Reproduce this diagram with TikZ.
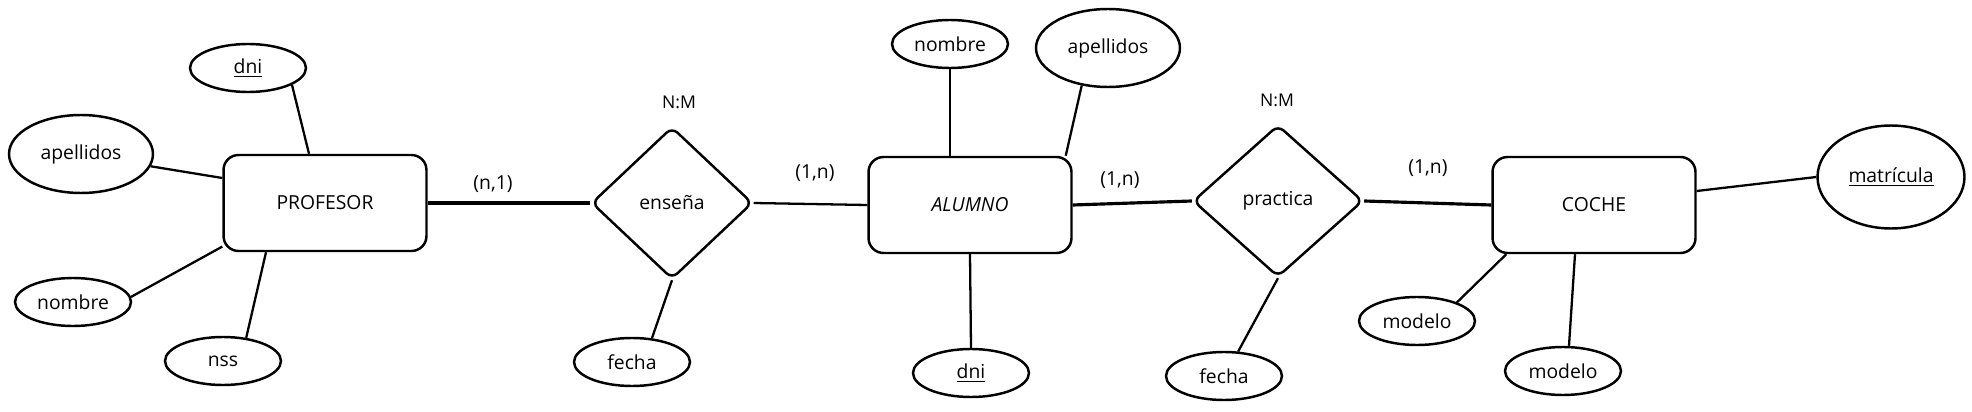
\documentclass[tikz,border=0pt]{standalone}
\usepackage{fontspec}
\setmainfont{Open Sans}
\usetikzlibrary{shapes.geometric,positioning}

\begin{document}
\begin{tikzpicture}[x=0.02cm, y=-0.02cm, font=\fontsize{11}{13}\selectfont,
  entity/.style={rectangle, draw, rounded corners=0.3cm, line width=1.4pt, minimum width=4.06cm, minimum height=1.92cm},
  attr/.style={ellipse, draw, line width=1.4pt, minimum width=2.32cm, minimum height=0.96cm, inner sep=1pt},
  bigattr/.style={attr, minimum width=2.88cm, minimum height=1.56cm},
  relation/.style={diamond, draw, rounded corners=0.15cm, line width=1.4pt, minimum height=3.04cm, inner sep=0pt},
  card/.style={font=\fontsize{10}{12}\selectfont},
  link/.style={line width=1.3pt},
  strong/.style={line width=1.8pt}
]
  \useasboundingbox (0,0) rectangle (1972,412);

  \node[entity] (profesor) at (325,203) {PROFESOR};
  \node[attr] (dniP) at (248,68) {\underline{dni}};
  \node[bigattr] (apellidosP) at (81,154) {apellidos};
  \node[attr] (nombreP) at (73,302) {nombre};
  \node[attr] (nss) at (223,361) {nss};

  \node[relation, minimum width=3.22cm] (ensena) at (672,203) {enseña};
  \node[card] (nmE) at (679,102) {N:M};
  \node[attr] (fechaE) at (632,362) {fecha};

  \node[entity] (alumno) at (970,205) {\itshape ALUMNO};
  \node[attr] (nombreA) at (950,44) {nombre};
  \node[bigattr] (apellidosA) at (1108,48) {apellidos};
  \node[attr] (dniA) at (971,373) {\underline{dni}};

  \node[relation, minimum width=3.4cm] (practica) at (1278,201) {practica};
  \node[card] (nmP) at (1277,100) {N:M};
  \node[attr] (fechaP) at (1224,376) {fecha};

  \node[entity] (coche) at (1594,205) {COCHE};
  \node[attr, minimum width=2.94cm, minimum height=2.06cm] (matricula) at (1891,177) {\underline{matrícula}};
  \node[attr] (modelo1) at (1417,321) {modelo};
  \node[attr] (modelo2) at (1563,371) {modelo};

  \node (cPE) at (493,184) {(n,1)};
  \node (cEA) at (815,173) {(1,n)};
  \node (cAP) at (1120,180) {(1,n)};
  \node (cPC) at (1428,168) {(1,n)};

  \draw[strong] (profesor.east) -- (ensena.west);
  \draw[link] (ensena.east) -- (alumno.west);
  \draw[strong] (alumno.east) -- (practica.west);
  \draw[strong] (practica.east) -- (coche.west);

  \draw[link] (dniP.-21) -- ([xshift=-0.32cm]profesor.north);
  \draw[link] (apellidosP.-10) -- ([yshift=0.5cm]profesor.west);
  \draw[link] (nombreP.5) -- (profesor.-157);
  \draw[link] (nss.45) -- ([xshift=-1.18cm]profesor.south);
  \draw[link] (fechaE.50) -- (ensena.south);
  \draw[link] (nombreA.south) -- (nombreA.south |- alumno.north);
  \draw[link] (apellidosA.-125) -- ([xshift=-0.14cm]alumno.north east);
  \draw[link] (alumno.south) -- (dniA.north);
  \draw[link] (fechaP.60) -- (practica.south);
  \draw[link] ([yshift=0.28cm]coche.east) -- (matricula.west);
  \draw[link] (modelo1.25) -- ([xshift=0.3cm]coche.south west);
  \draw[link] ([xshift=0.12cm]modelo2.north) -- ([xshift=-0.38cm]coche.south);
\end{tikzpicture}
\end{document}
